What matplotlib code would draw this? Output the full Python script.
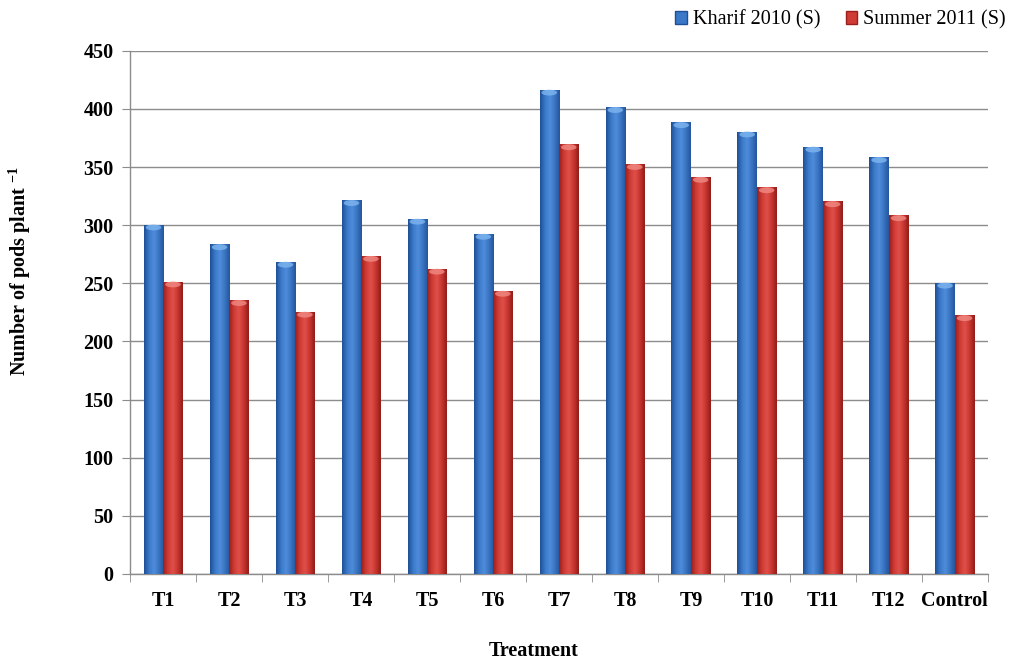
import numpy as np
import matplotlib
matplotlib.use("Agg")
import matplotlib.pyplot as plt
from matplotlib.patches import Patch, Ellipse
from matplotlib.colors import LinearSegmentedColormap

TREATMENTS = ["T1", "T2", "T3", "T4", "T5", "T6", "T7", "T8", "T9", "T10", "T11", "T12", "Control"]
KHARIF_2010 = [300, 283, 268, 321, 305, 292, 416, 401, 388, 380, 367, 358, 250]
SUMMER_2011 = [251, 235, 225, 273, 262, 243, 369, 352, 341, 332, 320, 308, 222]

plt.rcParams["font.family"] = ["Liberation Serif", "DejaVu Serif"]
plt.rcParams["mathtext.fontset"] = "custom"
plt.rcParams["mathtext.rm"] = "Liberation Serif:bold"
plt.rcParams["mathtext.default"] = "rm"

FS = 14.5

# cylinder-ish shading: dark edge -> light -> dark edge
BLUE_CMAP = LinearSegmentedColormap.from_list(
    "blue_bar", ["#1f4f94", "#3a78c9", "#4f8ddb", "#3a74c2", "#24559c"])
RED_CMAP = LinearSegmentedColormap.from_list(
    "red_bar", ["#9a1f1c", "#cf3b35", "#e0504a", "#c8342f", "#8f1d1a"])
TOP_BLUE = "#7fb6f0"
TOP_RED = "#f08a84"

fig = plt.figure(figsize=(10.10, 6.59), dpi=100)
ax = fig.add_axes([0.129, 0.129, 0.849, 0.794])

x = np.arange(len(TREATMENTS))
width = 0.295
grad = np.linspace(0, 1, 64).reshape(1, -1)


def gradient_bars(xs, vals, cmap, top_color):
    for xc, v in zip(xs, vals):
        x0, x1 = xc - width / 2, xc + width / 2
        ax.imshow(grad, cmap=cmap, extent=(x0, x1, 0, v), aspect="auto",
                  interpolation="bicubic", zorder=3)
        ax.add_patch(Ellipse((xc, v - 2), width * 0.8, 5, color=top_color,
                             alpha=0.8, zorder=4, lw=0))


gradient_bars(x - width / 2, KHARIF_2010, BLUE_CMAP, TOP_BLUE)
gradient_bars(x + width / 2, SUMMER_2011, RED_CMAP, TOP_RED)

ax.set_xlim(-0.5, len(TREATMENTS) - 0.5)
ax.set_ylim(0, 450)
ax.set_yticks(np.arange(0, 451, 50))
ax.set_xticks(x)
ax.set_xticklabels(TREATMENTS, fontsize=FS, fontweight="bold")
ax.set_xticks(np.arange(-0.5, len(TREATMENTS), 1), minor=True)
ax.tick_params(axis="x", which="major", length=0, pad=12)
ax.tick_params(axis="x", which="minor", length=6, color="#8c8c8c")
ax.tick_params(axis="y", length=6, color="#8c8c8c", labelsize=FS, pad=6)
for lbl in ax.get_yticklabels():
    lbl.set_fontweight("bold")

ax.grid(axis="y", color="#8c8c8c", linewidth=1.0, zorder=0)
ax.set_axisbelow(True)
for side in ("top", "right"):
    ax.spines[side].set_visible(False)
for side in ("left", "bottom"):
    ax.spines[side].set_color("#8c8c8c")
    ax.spines[side].set_linewidth(1.0)

ax.set_xlabel("Treatment", fontsize=FS, fontweight="bold")
ax.xaxis.set_label_coords(0.470, -0.128)
ax.set_ylabel("Number of pods plant $^{-1}$", fontsize=FS, fontweight="bold")
ax.yaxis.set_label_coords(-0.113, 0.579)

handles = [Patch(facecolor="#3a78c9", edgecolor="#1f4f94", label="Kharif 2010 (S)"),
           Patch(facecolor="#cf3b35", edgecolor="#9a1f1c", label="Summer 2011 (S)")]
fig.legend(handles=handles, loc="upper right", bbox_to_anchor=(1.014, 1.012), ncol=2,
           frameon=False, fontsize=FS, handlelength=0.55, handleheight=0.55,
           handletextpad=0.3, columnspacing=1.3)

fig.savefig("out.png", dpi=100)
